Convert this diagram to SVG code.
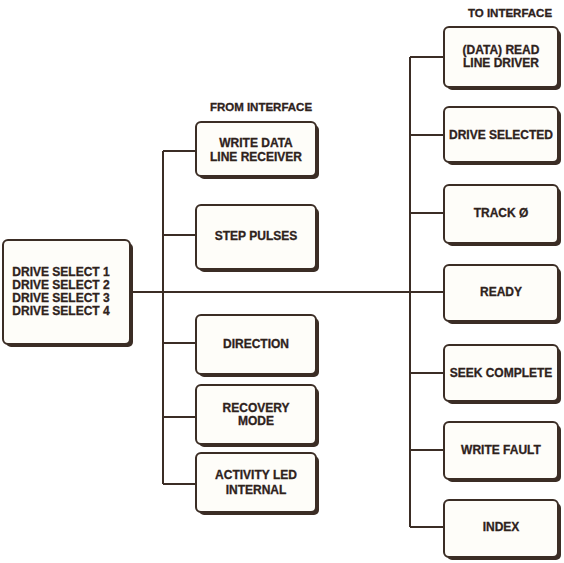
<svg xmlns="http://www.w3.org/2000/svg" width="564" height="563" viewBox="0 0 564 563">
<style>
.bg{fill:#ffffff}
.sh{fill:#3b2d25}
.box{fill:#fefdf9;stroke:#3b2d25;stroke-width:2}
.ln{stroke:#3b2d25;stroke-width:2;fill:none}
text{font-family:"Liberation Sans",Arial,sans-serif;font-weight:bold;font-size:12px;fill:#2e221c;stroke:#2e221c;stroke-width:0.3;text-anchor:middle}
.hd{font-size:11.5px}
</style>
<rect class="bg" x="0" y="0" width="564" height="563"/>
<g id="connectors">
<path class="ln" d="M130 292H444"/>
<path class="ln" d="M163 151V484M163 151H196M163 235H196M163 343H196M163 417H196M163 484H196"/>
<path class="ln" d="M410 57V527M410 57H444M410 135H444M410 213H444M410 373H444M410 450H444M410 527H444"/>
</g>
<text class="hd" x="261" y="111">FROM INTERFACE</text>
<text class="hd" x="510" y="17">TO INTERFACE</text>
<g id="drive-select">
<rect class="sh" x="6" y="243" width="127" height="104" rx="5"/>
<rect class="box" x="3" y="240" width="127" height="104" rx="5"/>
<text x="61" y="276">DRIVE SELECT 1</text>
<text x="61" y="289">DRIVE SELECT 2</text>
<text x="61" y="302">DRIVE SELECT 3</text>
<text x="61" y="315">DRIVE SELECT 4</text>
</g>
<g id="write-data">
<rect class="sh" x="199" y="125" width="120" height="54" rx="5"/>
<rect class="box" x="196" y="122" width="120" height="54" rx="5"/>
<text x="256" y="147">WRITE DATA</text>
<text x="256" y="161">LINE RECEIVER</text>
</g>
<g id="step-pulses">
<rect class="sh" x="199" y="208" width="120" height="64" rx="5"/>
<rect class="box" x="196" y="205" width="120" height="64" rx="5"/>
<text x="256" y="240">STEP PULSES</text>
</g>
<g id="direction">
<rect class="sh" x="199" y="318" width="120" height="59" rx="5"/>
<rect class="box" x="196" y="315" width="120" height="59" rx="5"/>
<text x="256" y="348">DIRECTION</text>
</g>
<g id="recovery-mode">
<rect class="sh" x="199" y="388" width="120" height="59" rx="5"/>
<rect class="box" x="196" y="385" width="120" height="59" rx="5"/>
<text x="256" y="412">RECOVERY</text>
<text x="256" y="425">MODE</text>
</g>
<g id="activity-led">
<rect class="sh" x="199" y="456" width="120" height="59" rx="5"/>
<rect class="box" x="196" y="453" width="120" height="59" rx="5"/>
<text x="256" y="479">ACTIVITY LED</text>
<text x="256" y="494">INTERNAL</text>
</g>
<g id="read-line-driver">
<rect class="sh" x="447" y="30" width="114" height="60" rx="5"/>
<rect class="box" x="444" y="27" width="114" height="60" rx="5"/>
<text x="501" y="54">(DATA) READ</text>
<text x="501" y="67">LINE DRIVER</text>
</g>
<g id="drive-selected">
<rect class="sh" x="447" y="110" width="114" height="55" rx="5"/>
<rect class="box" x="444" y="107" width="114" height="55" rx="5"/>
<text x="501" y="139">DRIVE SELECTED</text>
</g>
<g id="track0">
<rect class="sh" x="447" y="188" width="114" height="58" rx="5"/>
<rect class="box" x="444" y="185" width="114" height="58" rx="5"/>
<text x="501" y="217">TRACK Ø</text>
</g>
<g id="ready">
<rect class="sh" x="447" y="268" width="114" height="56" rx="5"/>
<rect class="box" x="444" y="265" width="114" height="56" rx="5"/>
<text x="501" y="296">READY</text>
</g>
<g id="seek-complete">
<rect class="sh" x="447" y="348" width="114" height="56" rx="5"/>
<rect class="box" x="444" y="345" width="114" height="56" rx="5"/>
<text x="501" y="377">SEEK COMPLETE</text>
</g>
<g id="write-fault">
<rect class="sh" x="447" y="425" width="114" height="57" rx="5"/>
<rect class="box" x="444" y="422" width="114" height="57" rx="5"/>
<text x="501" y="454">WRITE FAULT</text>
</g>
<g id="index">
<rect class="sh" x="447" y="503" width="114" height="57" rx="5"/>
<rect class="box" x="444" y="500" width="114" height="57" rx="5"/>
<text x="501" y="531">INDEX</text>
</g>
</svg>
